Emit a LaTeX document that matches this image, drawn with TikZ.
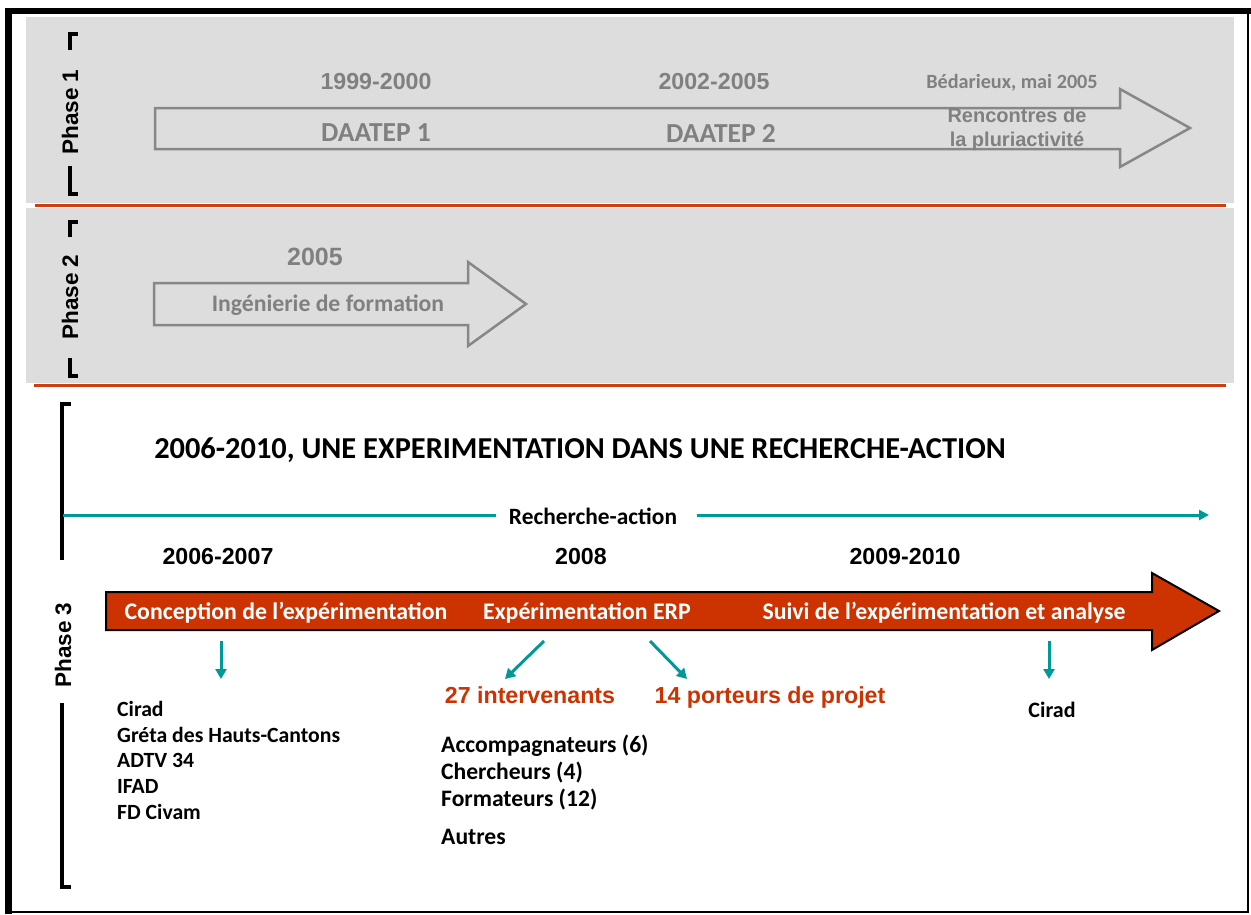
\documentclass[tikz,border=0pt]{standalone}
\usepackage{fontspec}
\setmainfont{Carlito}
\newfontfamily\arialf{Liberation Sans}
\usetikzlibrary{arrows.meta}
\definecolor{bggray}{RGB}{221,221,221}
\definecolor{txtgray}{RGB}{128,128,128}
\definecolor{linegray}{RGB}{135,135,135}
\definecolor{rust}{RGB}{204,51,0}
\definecolor{sepline}{RGB}{206,62,14}
\definecolor{tealc}{RGB}{0,153,153}
\tikzset{
  gtxt/.style={text=txtgray,font=\arialf\bfseries\fontsize{23.2}{27}\selectfont,inner sep=0pt},
  gcal/.style={text=txtgray,font=\bfseries\fontsize{27.5}{31}\selectfont,inner sep=0pt},
  phase/.style={rotate=90,font=\arialf\bfseries\fontsize{22.5}{26}\selectfont,inner sep=0pt},
  yeartxt/.style={font=\arialf\bfseries\fontsize{23.2}{27}\selectfont,inner sep=0pt},
  listtxt/.style={font=\bfseries\fontsize{21.7}{25.75}\selectfont,inner sep=0pt,anchor=west},
  midtxt/.style={font=\bfseries\fontsize{23.6}{27}\selectfont,inner sep=0pt,anchor=west},
  redtxt/.style={text=rust,font=\arialf\bfseries\fontsize{23.2}{27}\selectfont,inner sep=0pt},
  intxt/.style={text=white,font=\bfseries\fontsize{23.8}{27}\selectfont,inner sep=0pt},
  tealarrow/.style={draw=tealc,line width=3pt,-{Triangle[length=10pt,width=11pt]}},
  brk/.style={line width=4.5pt},
  ghostarrow/.style={draw=linegray,line width=2.5pt,fill=bggray,line join=miter},
}
\begin{document}
\begin{tikzpicture}[x=1pt,y=-1pt]
\useasboundingbox (0,0) rectangle (1251,914);
\fill[white] (0,0) rectangle (1251,914);
% frame
\fill[black] (5,8) rectangle (1251,14);
\fill[black] (5,8) rectangle (12,914);
\draw[line width=1.6pt] (12,912) -- (1248,912) -- (1248,14);
% gray bands
\fill[bggray] (26,17) rectangle (1234,203);
\fill[bggray] (26,208) rectangle (1234,383);
\draw[sepline,line width=3pt] (35,205) -- (1226,205);
\draw[sepline,line width=3pt] (34,385) -- (1226,385);
% phase 1
\draw[brk] (70,50) -- (70,34) -- (78,34);
\draw[brk] (70,166) -- (70,194) -- (78,194);
\node[phase] (ph1) at (70,112) {Phase 1};
\draw[ghostarrow] (155,108) -- (1120,108) -- (1120,89) -- (1190,128) -- (1120,167) -- (1120,149) -- (155,149) -- cycle;
\node[gtxt] (y1) at (376,82) {1999-2000};
\node[gcal] (d1) at (376,133) {DAATEP 1};
\node[gtxt] (y2) at (714,82) {2002-2005};
\node[gcal] (d2) at (721,133) {DAATEP 2};
\node[text=txtgray,font=\bfseries\fontsize{20.2}{23}\selectfont,inner sep=0pt] (bed) at (1012,83) {Bédarieux, mai 2005};
\node[text=txtgray,font=\arialf\bfseries\fontsize{20}{24}\selectfont,inner sep=0pt,align=center] (renc) at (1017,129) {Rencontres de\\la pluriactivité};
% phase 2
\draw[brk] (70,237) -- (70,222) -- (78,222);
\draw[brk] (70,358) -- (70,376) -- (78,376);
\node[phase] (ph2) at (70,297) {Phase 2};
\draw[ghostarrow] (154,283) -- (468,283) -- (468,262) -- (526,304) -- (468,346) -- (468,325) -- (154,325) -- cycle;
\node[text=txtgray,font=\arialf\bfseries\fontsize{25}{29}\selectfont,inner sep=0pt] (y5) at (315,257) {2005};
\node[text=txtgray,font=\bfseries\fontsize{23.7}{27}\selectfont,inner sep=0pt] (ing) at (328,305) {Ingénierie de formation};
% phase 3
\draw[brk] (71,404) -- (62,404) -- (62,560);
\draw[brk] (62,703) -- (62,887) -- (71,887);
\node[phase] (ph3) at (63,645) {Phase 3};
\node[font=\bfseries\fontsize{30.4}{34}\selectfont,inner sep=0pt] (title) at (580,450) {2006-2010, UNE EXPERIMENTATION DANS UNE RECHERCHE-ACTION};
\node[font=\bfseries\fontsize{23.4}{27}\selectfont,inner sep=0pt] (ra) at (593,516) {Recherche-action};
\coordinate (raS) at (63,515);
\coordinate (raE) at (1209,515);
\draw[draw=tealc,line width=3pt] (raS) -- ([xshift=-13pt]ra.west|-raS);
\draw[draw=tealc,line width=3pt,-{Triangle[length=10pt,width=10pt]}] ([xshift=20pt]ra.east|-raE) -- (raE);
\node[yeartxt] (p1) at (218,557) {2006-2007};
\node[yeartxt] (p2) at (581,557) {2008};
\node[yeartxt] (p3) at (905,557) {2009-2010};
\draw[fill=rust,draw=black,line width=2pt,line join=miter] (106,592) -- (1152,592) -- (1152,573) -- (1219,611) -- (1152,650) -- (1152,630) -- (106,630) -- cycle;
\node[intxt] (c1) at (286,613) {Conception de l’expérimentation};
\node[intxt] (c2) at (587,613) {Expérimentation ERP};
\node[intxt] (c3) at (944,613) {Suivi de l’expérimentation et analyse};
% arrows
\coordinate (a1s) at (221,641); \coordinate (a1e) at (221,679);
\coordinate (a2s) at (544,641); \coordinate (a2e) at (505,679);
\coordinate (a3s) at (650,641); \coordinate (a3e) at (687,679);
\coordinate (a4s) at (1049,641); \coordinate (a4e) at (1049,679);
\draw[tealarrow] (a1s) -- (a1e);
\draw[tealarrow] (a2s) -- (a2e);
\draw[tealarrow] (a3s) -- (a3e);
\draw[tealarrow] (a4s) -- (a4e);
\node[redtxt] (int) at (530,695) {27 intervenants};
\node[redtxt] (port) at (770,697) {14 porteurs de projet};
% lists
\node[listtxt] (l1) at (117,709) {Cirad};
\node[listtxt] (l2) at (117,735) {Gréta des Hauts-Cantons};
\node[listtxt] (l3) at (117,760) {ADTV 34};
\node[listtxt] (l4) at (117,786) {IFAD};
\node[listtxt] (l5) at (117,812) {FD Civam};
\node[midtxt] (m1) at (441,746) {Accompagnateurs (6)};
\node[midtxt] (m2) at (441,773) {Chercheurs (4)};
\node[midtxt] (m3) at (441,800) {Formateurs (12)};
\node[midtxt] (m4) at (441,837) {Autres};
\node[font=\bfseries\fontsize{22}{25}\selectfont,inner sep=0pt] (r1) at (1052,710) {Cirad};
\end{tikzpicture}
\end{document}
